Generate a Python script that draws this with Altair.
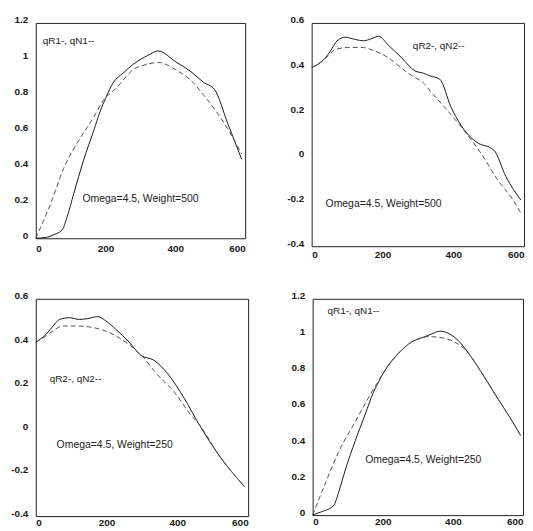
import altair as alt
import pandas as pd

# ---------------- data ----------------
# Panel 1: Omega=4.5, Weight=500, qR1 / qN1
p1_qr_x = [0, 30, 52, 76, 90, 109, 137, 166, 185, 200, 223, 250, 280, 322, 351, 400, 450, 480, 512, 550, 590]
p1_qr_y = [0, 0.005, 0.02, 0.048, 0.12, 0.25, 0.435, 0.60, 0.71, 0.78, 0.87, 0.92, 0.97, 1.02, 1.044, 0.985, 0.92, 0.87, 0.83, 0.64, 0.44]
p1_qn_x = [0, 43, 80, 128, 166, 194, 227, 280, 320, 351, 400, 450, 480, 512, 550, 590]
p1_qn_y = [0, 0.195, 0.39, 0.56, 0.675, 0.77, 0.83, 0.94, 0.97, 0.98, 0.94, 0.87, 0.80, 0.72, 0.61, 0.47]

# Panel 2: Omega=4.5, Weight=500, qR2 / qN2
p2_qr_x = [0, 39, 53, 72, 95, 123, 147, 170, 189, 217, 254, 292, 315, 334, 362, 394, 432, 465, 515, 549, 591]
p2_qr_y = [0.40, 0.444, 0.474, 0.52, 0.536, 0.526, 0.52, 0.53, 0.54, 0.50, 0.444, 0.385, 0.375, 0.363, 0.348, 0.222, 0.119, 0.067, 0.03, -0.089, -0.193]
p2_qn_x = [0, 39, 67, 105, 142, 179, 217, 264, 292, 315, 338, 376, 423, 479, 526, 572, 591]
p2_qn_y = [0.40, 0.44, 0.481, 0.49, 0.49, 0.474, 0.444, 0.385, 0.355, 0.333, 0.289, 0.222, 0.133, 0.015, -0.104, -0.20, -0.252]

# Panel 3: Omega=4.5, Weight=250, qR2 / qN2
p3_qr_x = [0, 30, 49, 67, 95, 123, 147, 175, 198, 226, 264, 297, 334, 372, 419, 461, 521, 590]
p3_qr_y = [0.40, 0.438, 0.475, 0.505, 0.513, 0.505, 0.509, 0.518, 0.498, 0.46, 0.40, 0.34, 0.317, 0.257, 0.143, 0.023, -0.128, -0.265]
p3_qn_x = [0, 30, 49, 77, 114, 161, 207, 254, 301, 344, 390, 437, 461, 521, 590]
p3_qn_y = [0.40, 0.43, 0.453, 0.475, 0.475, 0.468, 0.445, 0.40, 0.335, 0.25, 0.174, 0.068, 0.023, -0.128, -0.265]

# Panel 4: Omega=4.5, Weight=250, qR1 / qN1
p4_qr_x = [0, 23, 60, 74, 93, 122, 150, 173, 183, 207, 244, 282, 315, 340, 362, 386, 424, 442, 480, 527, 565, 593]
p4_qr_y = [0, 0.017, 0.053, 0.126, 0.25, 0.415, 0.56, 0.68, 0.72, 0.805, 0.896, 0.96, 0.986, 1.005, 1.02, 1.01, 0.95, 0.905, 0.796, 0.65, 0.534, 0.443]
p4_qn_x = [0, 37, 74, 122, 159, 183, 207, 244, 282, 315, 329, 362, 405, 442, 480, 527, 565, 593]
p4_qn_y = [0, 0.18, 0.35, 0.52, 0.65, 0.73, 0.805, 0.896, 0.96, 0.986, 0.99, 0.986, 0.96, 0.905, 0.796, 0.65, 0.534, 0.443]

x_ticks = [0, 200, 400, 600]
y_ticks_q1 = [0, 0.2, 0.4, 0.6, 0.8, 1.0, 1.2]
y_ticks_q2 = [-0.4, -0.2, 0, 0.2, 0.4, 0.6]

legend_q1 = "qR1-, qN1--"
legend_q2 = "qR2-, qN2--"
note_500 = "Omega=4.5, Weight=500"
note_250 = "Omega=4.5, Weight=250"

FONT = "Liberation Sans"
LABEL_EXPR = "replace(format(datum.value, '~g'), '\u2212', '-')"


def panel(qr_x, qr_y, qn_x, qn_y, ydom, yticks, legend, lpos, note, npos, w, h, xpad):
    xs = alt.X("x:Q", scale=alt.Scale(domain=[0, 600]),
               axis=alt.Axis(values=x_ticks, title=None, labelPadding=xpad))
    ys = alt.Y("y:Q", scale=alt.Scale(domain=ydom),
               axis=alt.Axis(values=yticks, title=None, labelExpr=LABEL_EXPR,
                             labelOffset=-3))
    dr = pd.DataFrame({"x": qr_x, "y": qr_y})
    dn = pd.DataFrame({"x": qn_x, "y": qn_y})
    l_r = alt.Chart(dr).mark_line(color="#1a1a1a", strokeWidth=1,
                                  interpolate="monotone").encode(x=xs, y=ys)
    l_n = alt.Chart(dn).mark_line(color="#555555", strokeWidth=1, strokeDash=[5, 3],
                                  interpolate="monotone").encode(x=xs, y=ys)
    t1 = alt.Chart(pd.DataFrame({"t": [legend]})).mark_text(
        align="left", baseline="middle", font=FONT, fontSize=10, color="#222"
    ).encode(text="t:N", x=alt.value(lpos[0]), y=alt.value(lpos[1]))
    t2 = alt.Chart(pd.DataFrame({"t": [note]})).mark_text(
        align="left", baseline="middle", font=FONT, fontSize=10.5, color="#222"
    ).encode(text="t:N", x=alt.value(npos[0]), y=alt.value(npos[1]))
    return alt.layer(l_r, l_n, t1, t2).properties(width=w, height=h)


p1 = panel(p1_qr_x, p1_qr_y, p1_qn_x, p1_qn_y, [0, 1.2], y_ticks_q1,
           legend_q1, (7, 18), note_500, (47, 177), 211, 217, 5)
p2 = panel(p2_qr_x, p2_qr_y, p2_qn_x, p2_qn_y, [-0.4, 0.6], y_ticks_q2,
           legend_q2, (102, 23), note_500, (14, 182), 214, 225, 3)
p3 = panel(p3_qr_x, p3_qr_y, p3_qn_x, p3_qn_y, [-0.4, 0.6], y_ticks_q2,
           legend_q2, (14, 81), note_250, (21, 147), 214, 219, 1)
p4 = panel(p4_qr_x, p4_qr_y, p4_qn_x, p4_qn_y, [0, 1.2], y_ticks_q1,
           legend_q1, (15, 12), note_250, (53, 162), 212, 218, 1)

row1 = alt.hconcat(p1, p2, spacing=38)
row2 = alt.hconcat(p3, p4, spacing=36)

chart = alt.vconcat(row1, row2, spacing=27).properties(
    padding={"left": 0, "top": 4, "right": 0, "bottom": 0},
    background="white"
).configure_view(
    stroke="#222222", strokeWidth=1
).configure_axis(
    grid=False, domain=False, ticks=False,
    labelFont=FONT, labelFontSize=10, labelFontWeight="bold", labelColor="#1a1a1a"
).configure_axisY(
    labelPadding=8, minExtent=27, maxExtent=27
).configure_axisX(
    minExtent=16, maxExtent=16
)

chart.save("out.html", embed_options={"renderer": "svg", "actions": False})
